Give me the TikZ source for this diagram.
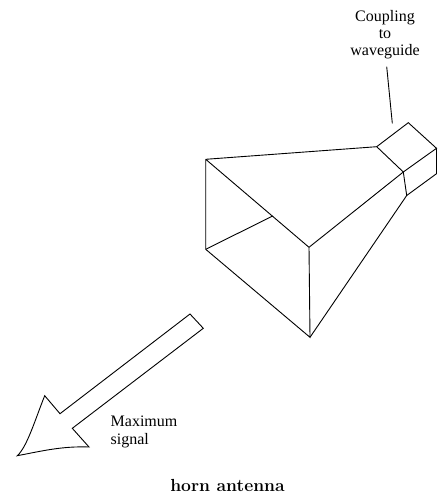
\documentclass[tikz,border=0pt]{standalone}
\usepackage{fontspec}
\newfontfamily\labelfont{Liberation Serif}
\usetikzlibrary{calc}
\tikzset{
  wire/.style={draw,line width=0.9pt,line join=miter},
  flabel/.style={font=\labelfont\fontsize{16}{17.3}\selectfont,align=center,inner sep=0pt},
  caption/.style={font=\bfseries\fontsize{17.5}{20}\selectfont,inner sep=0pt},
}
\begin{document}
\begin{tikzpicture}[x=1pt,y=-1pt]
  \useasboundingbox (0,0) rectangle (437,494);
  % ---- horn corners ----
  \coordinate (mouthTL) at (205.7,159.3);
  \coordinate (mouthBL) at (205.7,249.3);
  \coordinate (mouthTR) at (309,247.3);
  \coordinate (mouthBR) at (310,337.3);
  \coordinate (hidden) at (272.7,216);
  \coordinate (throatL) at (376.7,146.7);
  \coordinate (throatM) at (403.3,172);
  \coordinate (throatB) at (406.7,195.5);
  % ---- waveguide ----
  \coordinate (guideT) at (408.3,122.7);
  \coordinate (guideR) at (436.5,148.3);
  \coordinate (guideB) at (436.5,173.7);
  % ---- arrow ----
  \coordinate (tailA) at (190,314);
  \coordinate (tailB) at (203.3,328.3);
  \coordinate (neckB) at (72.3,428.3);
  \coordinate (barbB) at (89,447);
  \coordinate (tip) at (17.3,455.7);
  \coordinate (barbA) at (44.7,395.7);
  \coordinate (neckA) at (60,413.7);
  % ---- labels ----
  \node[flabel] (coupling) at (385,34.5) {Coupling\\to\\waveguide};
  \coordinate (leadTop) at (386.7,66.7);
  \coordinate (leadEnd) at (392.3,123.3);
  \node[flabel,align=left,anchor=west] (maxsig) at (110.5,432) {Maximum\\signal};
  \node[caption] (title) at (227.5,485.5) {horn antenna};
  % ---- edges ----
  \draw[wire] (mouthTL) -- (throatL) -- (throatM) -- (mouthTR) -- (mouthTL);
  \draw[wire] (mouthTL) -- (mouthBL) -- (mouthBR) -- (mouthTR);
  \draw[wire] (mouthBL) -- (hidden);
  \draw[wire] (mouthBR) -- (throatB) -- (throatM);
  \draw[wire] (throatL) -- (guideT) -- (guideR) -- (throatM);
  \draw[wire] (guideR) -- (guideB) -- (throatB);
  \draw[wire] (leadTop) -- (leadEnd);
  \draw[wire] (tailA) -- (tailB) -- (neckB) -- (barbB)
    .. controls (62,446) and (42,451) .. (tip)
    .. controls (27,447) and (35,420) .. (barbA) -- (neckA) -- cycle;
\end{tikzpicture}
\end{document}
